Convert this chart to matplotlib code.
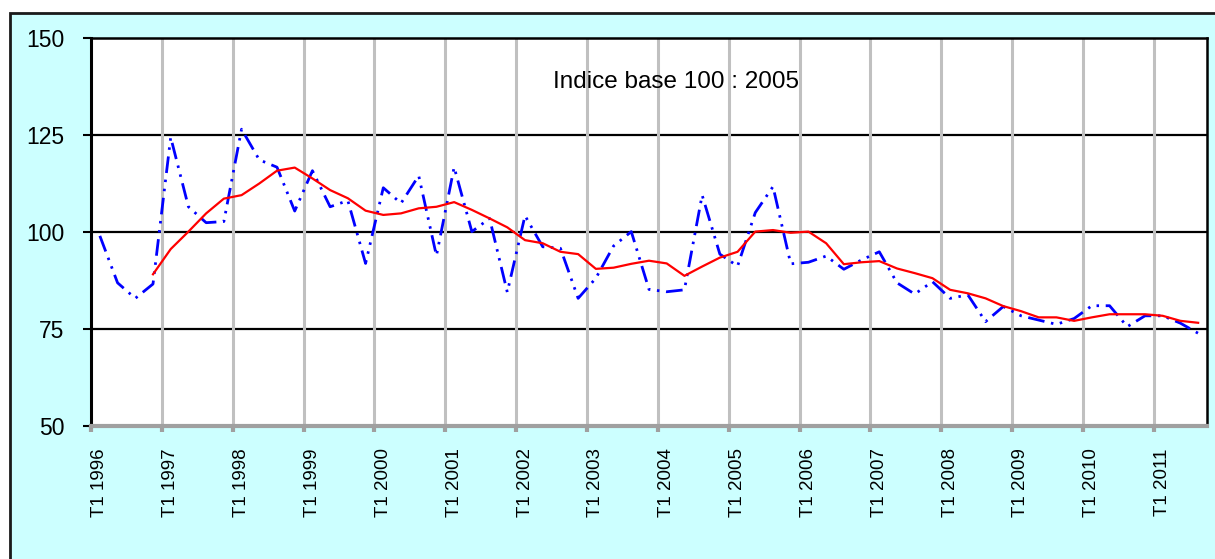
import matplotlib
matplotlib.use("Agg")
import matplotlib.pyplot as plt
from matplotlib.patches import Rectangle
import numpy as np

plt.rcParams['font.family'] = ['Liberation Sans', 'DejaVu Sans']

# Quarterly index (base 100 : 2005), T1 1996 .. T3 2011
years = list(range(1996, 2012))
year_labels = ["T1 %d" % y for y in years]

indice = [99.0, 86.9, 82.9, 86.6,
          124.4, 106.5, 102.4, 102.7,
          126.5, 118.6, 116.7, 105.4,
          115.8, 106.5, 108.1, 91.9,
          111.4, 107.4, 114.5, 93.9,
          116.7, 100.1, 103.5, 84.5,
          104.2, 96.2, 95.8, 82.9,
          88.1, 96.4, 100.1, 85.2,
          84.6, 85.1, 109.5, 94.3,
          91.2, 105.0, 111.7, 91.8,
          92.2, 93.8, 90.4, 92.8,
          94.9, 86.9, 84.0, 87.2,
          82.9, 83.8, 76.9, 80.8,
          78.4, 77.3, 76.2, 77.7,
          81.0, 81.0, 75.6, 78.4,
          78.4, 76.5, 73.9]

moyenne = [None, None, None, 89.1,
           95.6, 100.1, 104.8, 108.6,
           109.5, 112.5, 115.8, 116.6,
           113.8, 110.8, 108.7, 105.5,
           104.4, 104.8, 106.1, 106.5,
           107.7, 105.7, 103.5, 101.2,
           97.9, 97.1, 94.9, 94.3,
           90.5, 90.8, 91.8, 92.6,
           91.9, 88.7, 91.1, 93.4,
           94.9, 100.1, 100.5, 99.8,
           100.1, 97.1, 91.7, 92.2,
           92.5, 90.6, 89.4, 88.1,
           85.1, 84.2, 82.9, 80.9,
           79.6, 78.0, 78.0, 77.1,
           78.0, 78.8, 78.8, 78.8,
           78.4, 77.1, 76.6]

y_ticks = [50, 75, 100, 125, 150]

W, H = 1215, 559
fig = plt.figure(figsize=(W / 100, H / 100), dpi=100)
fig.patch.set_facecolor('white')

# outer chart area (cyan box)
bg = fig.add_axes([0, 0, 1, 1], zorder=-10)
bg.set_xlim(0, W)
bg.set_ylim(H, 0)
bg.axis('off')
bg.add_patch(Rectangle((10, 13), W + 50, H + 50, facecolor='#CCFFFF',
                       edgecolor='#1a1a1a', linewidth=2))

left, right, top, bottom = 91, 1207, 38, 426
ax = fig.add_axes([left / W, 1 - bottom / H, (right - left) / W, (bottom - top) / H])
ax.set_facecolor('white')

n = len(indice)
x = np.arange(n) + 0.5
ax.set_xlim(0, n)
ax.set_ylim(50, 150)

# grid
for yv in y_ticks[1:-1]:
    ax.axhline(yv, color='black', lw=1.6, zorder=1)
year_pos = np.arange(0, n, 4)
for xv in year_pos[1:]:
    ax.axvline(xv, color='#c0c0c0', lw=2.2, zorder=1)

ma = np.array([np.nan if v is None else v for v in moyenne], dtype=float)
ax.plot(x, indice, color='#0000FF', lw=2.0,
        linestyle=(0, (6, 2.4, 0.9, 2.4, 0.9, 2.4)), zorder=3)
ax.plot(x, ma, color='#FF0000', lw=1.6, zorder=4)

# y axis
ax.set_yticks(y_ticks)
ax.set_yticklabels([str(v) for v in y_ticks], fontsize=16.5)
ax.tick_params(axis='y', direction='out', length=6, width=1.5, color='black', pad=13)

# x axis: tick marks at year boundaries, labels at first-quarter centers
ax.set_xticks(year_pos)
ax.set_xticklabels([])
ax.tick_params(axis='x', which='major', direction='out', length=4, width=3, color='#a0a0a0')
ax.set_xticks(year_pos + 0.5, minor=True)
ax.set_xticklabels(year_labels, minor=True, rotation=90, fontsize=13.5, va='top', ha='center')
ax.tick_params(axis='x', which='minor', length=0, pad=16)

for s in ['top', 'right']:
    ax.spines[s].set_color('black')
    ax.spines[s].set_linewidth(1.8)
ax.spines['left'].set_color('black')
ax.spines['left'].set_linewidth(2.2)
ax.spines['bottom'].set_color('#a0a0a0')
ax.spines['bottom'].set_linewidth(3)

ax.text(33.0, 138.7, "Indice base 100 : 2005", fontsize=17.5, ha='center', va='center', zorder=5)

fig.savefig('out.png', dpi=100)
